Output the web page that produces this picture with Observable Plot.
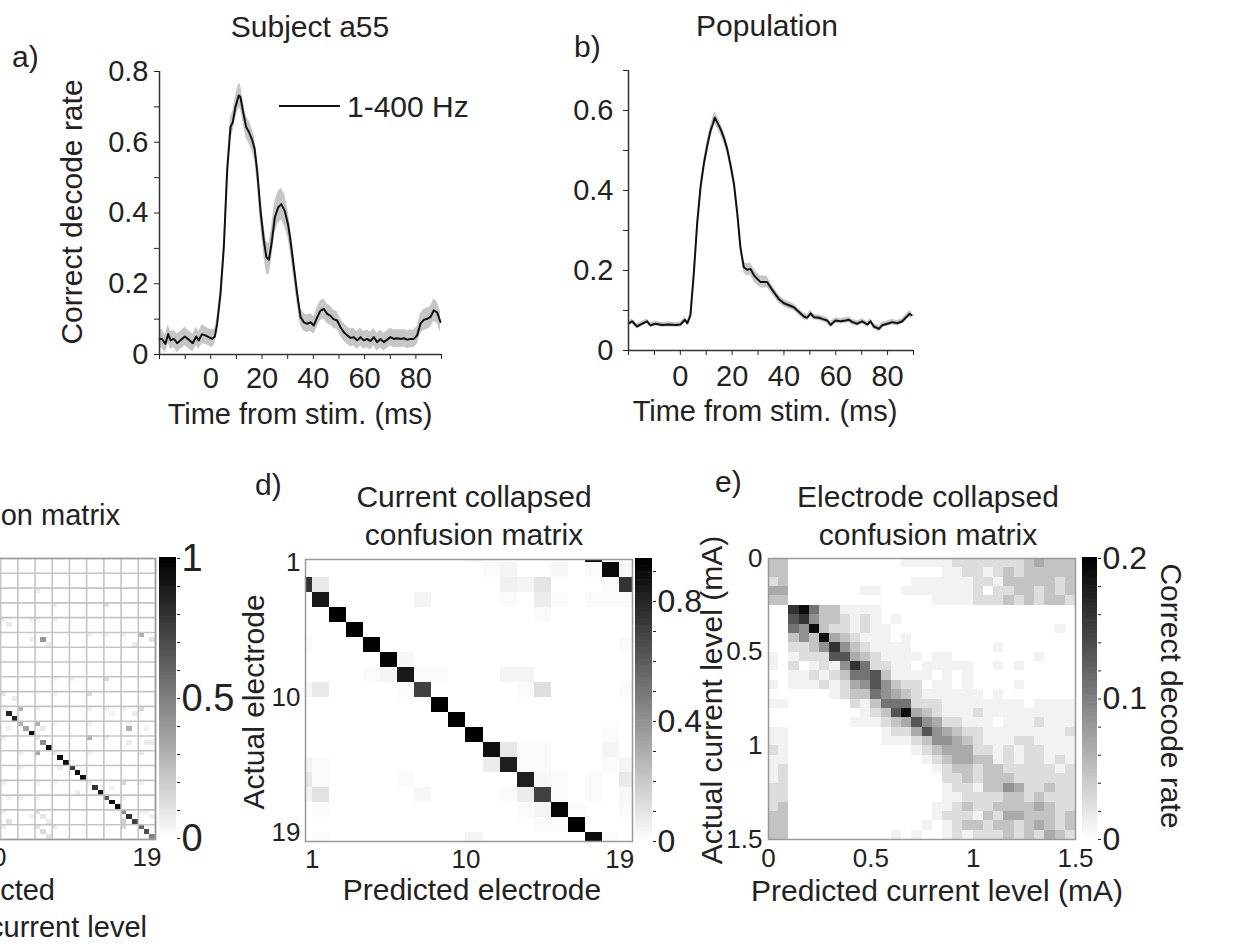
<!DOCTYPE html>
<html><head><meta charset="utf-8">
<script src="https://cdn.jsdelivr.net/npm/d3@7"></script>
<script src="https://cdn.jsdelivr.net/npm/@observablehq/plot@0.6"></script>
<style>
html,body{margin:0;padding:0;background:#fff;overflow:hidden;}
#fig{position:relative;width:1236px;height:946px;overflow:hidden;}
.p{position:absolute;}
.p svg{display:block;max-width:none;}
#overlay{position:absolute;left:0;top:0;pointer-events:none;}
</style></head><body><div id="fig"></div>
<script>
// ---------------- DATA ----------------
// Panel a: Subject a55, 1-400 Hz
const timeA = [-20,-19,-17.7,-16.6,-15.7,-14.4,-13.1,-11.8,-10.1,-8.6,-7,-5.7,-4.7,-3.4,-2.1,-0.8,0.5,1.6,2.5,3.8,5.1,6.4,7.7,8.6,9.6,10.9,11.6,12.5,13.8,14.9,16.2,17.1,18.1,19.4,20.7,21.7,22.7,23.7,25,26.3,27.5,28.8,30.1,31.1,32.4,33.7,35,36.3,37.6,38.9,40.2,41.5,42.8,44.1,45.4,46.6,47.9,49.3,50.6,51.9,53.2,54.5,55.8,57.1,58.4,59.7,61,62.3,63.6,64.9,66.2,67.5,68.8,70.1,71.4,72.7,74,75.3,76.6,77.9,79.2,80.5,81.8,83.1,84.4,85.7,87,88.3,89.6];
const rateA = [.044,.044,.030,.058,.040,.044,.032,.040,.051,.042,.032,.051,.040,.057,.054,.049,.044,.051,.087,.172,.304,.520,.643,.657,.699,.732,.727,.690,.643,.629,.605,.582,.520,.407,.322,.275,.268,.313,.388,.416,.425,.407,.369,.322,.247,.172,.106,.091,.087,.091,.082,.105,.124,.129,.115,.110,.100,.096,.077,.063,.054,.047,.049,.040,.049,.040,.044,.038,.049,.035,.044,.035,.042,.049,.044,.046,.044,.046,.042,.044,.044,.054,.087,.098,.101,.106,.125,.119,.092];
const errA = [.025,.027,.025,.026,.025,.024,.026,.025,.027,.025,.025,.026,.025,.027,.025,.024,.025,.022,.02,.02,.02,.025,.03,.03,.032,.035,.035,.033,.032,.032,.032,.032,.035,.04,.045,.045,.045,.045,.045,.045,.045,.045,.04,.038,.035,.03,.025,.025,.025,.025,.025,.028,.028,.028,.028,.027,.026,.025,.025,.025,.025,.025,.025,.025,.025,.025,.025,.025,.025,.025,.025,.025,.025,.025,.025,.025,.025,.025,.025,.025,.025,.025,.028,.03,.03,.03,.032,.03,.03];

// Panel b: Population
const timeB = [-19.9,-18.6,-16.7,-14.7,-12.8,-11.5,-9.6,-7,-4.4,-1.9,0.1,1.8,2.7,3.9,5.2,6.5,7.8,9.1,10.4,11.7,12.6,13.3,14.2,15.5,16.8,18.1,19.4,20.7,22,23.2,24.5,25.8,27.1,28.4,29.7,31,32.3,33.5,34.8,36.1,38,40,41.9,43.8,45.8,47.7,49,50.3,51.6,53.5,54.8,56.7,58,59.9,61.9,63.8,65.1,66.4,68.3,70.2,72.2,73.4,74.7,76.7,77.9,79.9,81.8,83.7,85.7,87,88.5,89.3];
const rateB = [.068,.073,.060,.067,.073,.063,.067,.064,.065,.064,.065,.077,.068,.088,.192,.317,.408,.467,.512,.550,.567,.582,.571,.554,.533,.504,.463,.417,.342,.258,.208,.202,.204,.188,.179,.171,.171,.171,.158,.146,.129,.118,.113,.108,.096,.085,.082,.093,.083,.082,.079,.075,.064,.075,.073,.075,.077,.071,.067,.073,.065,.073,.060,.054,.063,.067,.071,.068,.073,.082,.092,.088];
const errB = [.006,.006,.006,.006,.006,.006,.006,.006,.006,.006,.006,.006,.006,.008,.01,.012,.012,.013,.014,.015,.016,.016,.015,.015,.014,.013,.012,.012,.012,.012,.014,.015,.015,.016,.015,.015,.015,.014,.012,.011,.01,.009,.009,.008,.008,.008,.008,.008,.007,.007,.007,.007,.007,.007,.007,.007,.007,.007,.007,.007,.007,.007,.007,.007,.007,.007,.007,.007,.007,.007,.008,.008];

// Shared axis ticks for time panels
const timeDomain = [-20, 90];
const timeTicks = [-20,-10,0,10,20,30,40,50,60,70,80,90];
const timeLabels = [0,20,40,60,80];
const rateTicksA = [0,0.1,0.2,0.3,0.4,0.5,0.6,0.7,0.8];
const rateLabelsA = [0,0.2,0.4,0.6,0.8];
const rateTicksB = [0,0.1,0.2,0.3,0.4,0.5,0.6,0.7];
const rateLabelsB = [0,0.2,0.4,0.6];

// Panel c: full confusion matrix (19 electrodes x 3 current levels), visible cells [row, col, rate]
const nElectrodes = 19, nLevelsC = 3;
const cellsC = [
 [29,29,.9],[30,30,.05],[31,31,.85],[32,32,.85],[33,33,.3],[34,34,.35],[35,35,.95],[36,36,.1],[37,37,.45],[38,38,.95],[39,39,.1],[40,40,.95],[41,41,.95],[42,42,.8],[43,43,.95],[44,44,.95],[45,45,.08],[46,46,.8],[47,47,.9],[48,48,.65],[49,49,.95],[50,50,.98],[51,51,.45],[52,52,.8],[53,53,.75],[54,54,.6],[55,55,.7],[56,56,.5],
 [6,36,.08],[9,39,.08],[9,48,.12],[12,30,.06],[13,31,.08],[12,35,.06],[12,36,.06],[12,39,.06],[16,35,.06],[16,37,.4],[17,38,.08],[15,45,.06],[15,48,.06],[15,51,.06],[15,54,.3],[17,53,.08],[16,56,.12],
 [24,39,.06],[24,42,.06],[24,48,.15],[27,30,.1],[28,32,.08],[27,39,.06],[27,45,.15],[30,33,.3],[30,36,.06],[30,45,.06],[30,48,.06],[30,51,.06],[30,54,.15],[31,49,.06],[31,53,.08],
 [33,36,.3],[34,31,.06],[34,37,.08],[33,39,.06],[33,45,.06],[34,52,.3],[34,55,.06],[33,52,.06],[36,30,.06],[36,45,.3],[36,48,.06],[37,52,.08],[37,55,.08],[37,56,.08],
 [39,36,.35],[39,45,.06],[39,54,.08],[39,33,.06],[42,33,.06],[42,40,.08],[45,30,.06],[45,36,.06],[45,39,.06],[47,43,.08],[45,51,.15],[45,54,.06],[46,49,.06],
 [48,31,.06],[48,33,.06],[48,36,.06],[48,51,.06],[53,31,.12],[52,35,.06],[51,36,.12],[52,37,.1],[53,38,.08],[54,36,.1],[55,37,.15],[56,38,.12],[54,39,.08],
 [53,51,.2],[54,51,.15],[51,54,.06],[51,55,.06],[52,56,.06],[54,30,.06],[51,30,.06]
];
const electrodeTickLabels = ["1","10","19"];
const electrodeTickIds = [1,10,19];
const cbTicksC = [0,0.1,0.2,0.3,0.4,0.5,0.6,0.7,0.8,0.9,1];
const cbLabelsC = [0,0.5,1];

// Panel d: current-collapsed confusion matrix [row, col, rate] (view window offset as in original)
const cellsD = [
 [0,17,.9],[0,10,.03],
 [1,0,.02],[1,11,.02],[1,12,.04],[1,15,.03],[1,17,.02],[1,18,.9],[1,19,.03],
 [2,0,.75],[2,1,.08],[2,12,.05],[2,13,.04],[2,14,.1],[2,18,.02],[2,19,.75],
 [3,1,.85],[3,7,.04],[3,12,.02],[3,14,.07],[3,15,.02],[3,17,.02],[3,18,.02],[3,19,.02],
 [4,2,.95],[4,14,.02],
 [5,3,.95],
 [6,4,.93],[6,0,.02],[6,19,.02],
 [7,5,.93],[7,6,.03],
 [8,6,.85],[8,4,.02],[8,5,.04],[8,7,.02],[8,8,.02],[8,12,.04],[8,13,.04],
 [9,7,.7],[9,0,.03],[9,1,.08],[9,6,.02],[9,13,.02],[9,14,.12],[9,19,.02],
 [10,8,.97],
 [11,9,.97],
 [12,10,.95],[12,18,.02],
 [13,11,.88],[13,12,.09],[13,13,.02],[13,14,.02],[13,18,.04],
 [14,11,.07],[14,12,.83],[14,13,.02],[14,14,.02],[14,0,.04],[14,1,.02],[14,18,.02],[14,19,.04],
 [15,13,.83],[15,14,.03],[15,15,.02],[15,17,.02],[15,19,.08],[15,0,.08],[15,1,.02],[15,6,.02],
 [16,14,.7],[16,13,.07],[16,12,.02],[16,15,.02],[16,17,.02],[16,0,.04],[16,1,.11],[16,7,.03],[16,19,.03],
 [17,15,.92],[17,14,.04],[17,13,.02],[17,16,.02],[17,1,.02],[17,19,.02],
 [18,16,.97],[18,15,.02],[18,14,.02],
 [19,17,.9],[19,10,.04],[19,1,.02],[19,18,.02]
];
const dDomainX = [0.61, 19.75];
const dDomainY = [0.78, 19.6];
const dTicks = [1,10,19];
const cbMaxD = 0.94;
const cbTicksD = [0,0.1,0.2,0.3,0.4,0.5,0.6,0.7,0.8,0.9];
const cbLabelsD = [0,0.4,0.8];

// Panel e: electrode-collapsed confusion matrix, 30x30 current bins, each digit = gray level code
const currentEdges = [0,0.05,0.1,0.15,0.2,0.25,0.3,0.35,0.4,0.45,0.5,0.55,0.6,0.65,0.7,0.75,0.8,0.85,0.9,0.95,1,1.05,1.1,1.15,1.2,1.25,1.3,1.35,1.4,1.45,1.5];
const levelCodesE = [0, 0.01, 0.027, 0.047, 0.067, 0.086, 0.11, 0.133, 0.16, 0.19];
const rowsE = [
 "330000000000011111222222234333",
 "330000000000000001122123233333",
 "230000000000001111112213333323",
 "440000000110011111112022332323",
 "330000000000000011112223232332",
 "008963311110000000000000000000",
 "007853321210100000000000000000",
 "006593221211000000000000000010",
 "003539432111010000000000000000",
 "002235853211110000000010000000",
 "101222774321111011000000001000",
 "102012158622110111110010100000",
 "001121236673111101010000000000",
 "101112124575322011010000100000",
 "000000123365432111111010000000",
 "110000002136662221111111101111",
 "000000000123794321112111111111",
 "000000001112347542211101112111",
 "110000000001224754322111111112",
 "110000000001112355432111221111",
 "210000000000001234442212122111",
 "110000000000000123443312122121",
 "120000000000000012332332222212",
 "120000000000000002232333222222",
 "220000000000000001221335422322",
 "220000000000000001122223323222",
 "230000000000000011232233334322",
 "330000000000000012221324433323",
 "330000000000000101233233234323",
 "330000000000101001212223232432"
];
const currentTicks = [0,0.5,1,1.5];
const cbMaxE = 0.2;
const cbTicksE = [0,0.02,0.04,0.06,0.08,0.1,0.12,0.14,0.16,0.18,0.2];
const cbLabelsE = [0,0.1,0.2];

// ---------------- DRAWING ----------------
const FONT = "'Liberation Sans', Arial, Helvetica, sans-serif";
const INK = "#222";
const fig = document.getElementById("fig");
function place(node, left, top) {
  const d = document.createElement("div");
  d.className = "p"; d.style.left = left + "px"; d.style.top = top + "px";
  d.appendChild(node); fig.appendChild(d);
}
function st(size) { return {fontFamily: FONT, fontSize: size + "px", color: INK, background: "transparent", overflow: "visible"}; }
const fmtNum = d => (d === 0 ? "0" : String(d));
const grayScale = max => ({type: "linear", domain: [0, max], range: ["#ffffff", "#000000"], clamp: true});

// Panel a
const dataA = timeA.map((t, i) => ({t, v: rateA[i], e: errA[i]}));
place(Plot.plot({
  width: 372, height: 338, marginLeft: 80, marginRight: 10, marginTop: 10, marginBottom: 45,
  style: st(29),
  x: {domain: timeDomain, ticks: timeTicks, tickFormat: d => timeLabels.includes(d) ? String(d) : "", tickSize: 5, tickPadding: 8, label: null},
  y: {domain: [0, 0.8], ticks: rateTicksA, tickFormat: d => rateLabelsA.includes(d) ? fmtNum(d) : "", tickSize: 5, tickPadding: 6, label: null},
  marks: [
    Plot.areaY(dataA, {x: "t", y1: d => d.v - d.e, y2: d => d.v + d.e, fill: "#c6c6c6"}),
    Plot.lineY(dataA, {x: "t", y: "v", stroke: "#111", strokeWidth: 2}),
    Plot.ruleX([timeDomain[0]], {stroke: "#333", strokeWidth: 1.5}),
    Plot.ruleY([0], {stroke: "#333", strokeWidth: 1.5})
  ]
}), 159 - 80, 71 - 10);

// Panel b
const dataB = timeB.map((t, i) => ({t, v: rateB[i], e: errB[i]}));
place(Plot.plot({
  width: 375, height: 335, marginLeft: 80, marginRight: 10, marginTop: 10, marginBottom: 45,
  style: st(29),
  x: {domain: timeDomain, ticks: timeTicks, tickFormat: d => timeLabels.includes(d) ? String(d) : "", tickSize: 5, tickPadding: 10, label: null},
  y: {domain: [0, 0.7], ticks: rateTicksB, tickFormat: d => rateLabelsB.includes(d) ? fmtNum(d) : "", tickSize: 5, tickPadding: 10, label: null},
  marks: [
    Plot.areaY(dataB, {x: "t", y1: d => d.v - d.e, y2: d => d.v + d.e, fill: "#c6c6c6"}),
    Plot.lineY(dataB, {x: "t", y: "v", stroke: "#111", strokeWidth: 2}),
    Plot.ruleX([timeDomain[0]], {stroke: "#333", strokeWidth: 1.5}),
    Plot.ruleY([0], {stroke: "#333", strokeWidth: 1.5})
  ]
}), 628 - 80, 70 - 10);

// Panel c matrix
const nColsC = nElectrodes * nLevelsC;
const blockEdgesC = d3.range(0, nColsC + 1, nLevelsC);
const tickPosC = electrodeTickIds.map(e => e * nLevelsC - nLevelsC / 2);
const cObjs = cellsC.map(([r, c, v]) => ({r, c, v}));
place(Plot.plot({
  width: 342, height: 326, marginLeft: 10, marginRight: 5, marginTop: 5, marginBottom: 40,
  style: st(26),
  x: {domain: [0, nColsC], ticks: tickPosC, tickFormat: d => electrodeTickLabels[tickPosC.indexOf(d)], tickSize: 0, tickPadding: 8, label: null},
  y: {domain: [0, nColsC], reverse: true, axis: null},
  color: grayScale(1),
  marks: [
    Plot.rect(cObjs, {x1: "c", x2: d => d.c + 1, y1: "r", y2: d => d.r + 1, fill: "v", inset: 0, shapeRendering: "crispEdges"}),
    Plot.ruleX(blockEdgesC, {stroke: "#c4c4c4", strokeWidth: 1.6}),
    Plot.ruleY(blockEdgesC, {stroke: "#c4c4c4", strokeWidth: 1.6}),
    Plot.frame({stroke: "#999", strokeWidth: 1.5})
  ]
}), -172 - 10, 558 - 5);

// Colorbar helper
function colorbar(max, ticks, labels, fontSize, barW, barH, left, top) {
  const ramp = d3.range(0, max + 1e-9, max / 120);
  place(Plot.plot({
    width: barW + 2 + 75, height: barH + 20, marginLeft: 2, marginRight: 75, marginTop: 10, marginBottom: 10,
    style: st(fontSize),
    y: {domain: [0, max], axis: "right", ticks: ticks, tickFormat: d => labels.includes(d) ? fmtNum(d) : "", tickSize: 3, tickPadding: 2, label: null},
    color: grayScale(max),
    marks: [Plot.ruleY(ramp, {y: d => d, stroke: d => d, strokeWidth: 3})]
  }), left - 2, top - 10);
}
colorbar(1, cbTicksC, cbLabelsC, 38, 17, 280, 159, 558);

// Panel d
const dObjs = cellsD.map(([r, c, v]) => ({r, c, v}));
place(Plot.plot({
  width: 382, height: 327, marginLeft: 50, marginRight: 5, marginTop: 5, marginBottom: 40,
  style: st(26),
  x: {domain: dDomainX, ticks: dTicks, tickFormat: d => String(d), tickSize: 0, tickPadding: 8, label: null},
  y: {domain: dDomainY, reverse: true, ticks: dTicks, tickFormat: d => String(d), tickSize: 0, tickPadding: 5, label: null},
  color: grayScale(cbMaxD),
  marks: [
    Plot.rect(dObjs, {x1: "c", x2: d => d.c + 1, y1: "r", y2: d => d.r + 1, fill: "v", inset: 0, clip: true, shapeRendering: "crispEdges"}),
    Plot.frame({stroke: "#999", strokeWidth: 1.5})
  ]
}), 305 - 50, 559 - 5);
colorbar(cbMaxD, cbTicksD, cbLabelsD, 32, 17, 282, 635, 559);

// Panel e
const eObjs = [];
rowsE.forEach((row, r) => {
  for (let c = 0; c < 30; c++) {
    const code = +(row[c] || 0);
    eObjs.push({x1: currentEdges[c], x2: currentEdges[c + 1], y1: currentEdges[r], y2: currentEdges[r + 1], v: levelCodesE[code]});
  }
});
place(Plot.plot({
  width: 362, height: 326, marginLeft: 50, marginRight: 5, marginTop: 5, marginBottom: 40,
  style: st(26),
  x: {domain: [0, 1.5], ticks: currentTicks, tickFormat: fmtNum, tickSize: 0, tickPadding: 9, label: null},
  y: {domain: [0, 1.5], reverse: true, ticks: currentTicks, tickFormat: fmtNum, tickSize: 0, tickPadding: 6, label: null},
  color: grayScale(cbMaxE),
  marks: [
    Plot.rect(eObjs, {x1: "x1", x2: "x2", y1: "y1", y2: "y2", fill: "v", inset: 0, shapeRendering: "crispEdges"}),
    Plot.frame({stroke: "#999", strokeWidth: 1.5})
  ]
}), 768 - 50, 558 - 5);
colorbar(cbMaxE, cbTicksE, cbLabelsE, 32, 15, 281, 1082, 558);

// ---------------- TEXT OVERLAY ----------------
const ov = d3.select(fig).append("svg").attr("id", "overlay").attr("width", 1236).attr("height", 946)
  .style("font-family", FONT).style("fill", INK);
function txt(s, x, y, size, anchor = "middle", rot = 0) {
  const t = ov.append("text").attr("font-size", size).attr("text-anchor", anchor).text(s);
  if (rot) t.attr("transform", `translate(${x},${y}) rotate(${rot})`);
  else t.attr("x", x).attr("y", y);
}
// panel a
txt("a)", 12, 67, 30, "start");
txt("Subject a55", 310, 37, 30);
txt("Correct decode rate", 82, 212, 30, "middle", -90);
txt("Time from stim. (ms)", 300, 424, 29);
ov.append("line").attr("x1", 279).attr("x2", 340).attr("y1", 106).attr("y2", 106).attr("stroke", "#111").attr("stroke-width", 2);
txt("1-400 Hz", 347, 117, 30, "start");
// panel b
txt("b)", 574, 57, 30, "start");
txt("Population", 767, 36, 30);
txt("Time from stim. (ms)", 765, 421, 29);
// panel c (cropped by the left page edge, as in the original figure)
txt("Full confusion matrix", 120, 525, 29, "end");
txt("Predicted", 55, 900, 29, "end");
txt("electrode & current level", 147, 937, 29, "end");
// panel d
txt("d)", 255, 495, 30, "start");
txt("Current collapsed", 474, 507, 30);
txt("confusion matrix", 474, 545, 30);
txt("Actual electrode", 264, 702, 30, "middle", -90);
txt("Predicted electrode", 472, 900, 30);
// panel e
txt("e)", 715, 492, 30, "start");
txt("Electrode collapsed", 928, 507, 30);
txt("confusion matrix", 928, 545, 30);
txt("Actual current level (mA)", 722, 700, 30, "middle", -90);
txt("Predicted current level (mA)", 937, 901, 30);
txt("Correct decode rate", 1161, 696, 30, "middle", 90);
</script></body></html>
